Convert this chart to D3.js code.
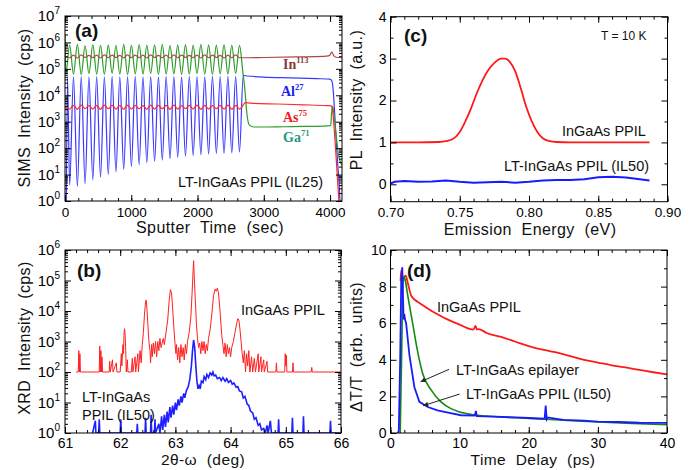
<!DOCTYPE html>
<html><head><meta charset="utf-8">
<script src="https://cdn.jsdelivr.net/npm/d3@7"></script>
<style>
body{margin:0;background:#fff;}
svg{font-family:"Liberation Sans",Arial,sans-serif;}
</style></head><body>
<svg id="c" width="699" height="470"></svg>
<script>
// ---------- (a) SIMS data (log10 of counts) ----------
const simsWellT = [70,187,303,420,536,653,769,886,1002,1119,1235,1352,1468,1585,1701,1818,1934,2051,2167,2284,2400,2517,2633];
const simsBarrT = [128,245,361,478,594,711,827,944,1060,1177,1293,1410,1526,1643,1759,1876,1992,2109,2225,2342,2458,2575];

const gaHeadT = [0,12], gaHeadV = [6.3,4.8];
const gaWell = [5.9,5.93,5.88,5.92,5.9,5.91,5.89,5.93,5.9,5.92,5.9,5.91,5.93,5.89,5.91,5.92,5.9,5.93,5.91,5.9,5.92,5.9,5.89];
const gaBarr = [4.8,4.78,4.82,4.8,4.79,4.83,4.8,4.78,4.81,4.8,4.82,4.79,4.8,4.81,4.78,4.8,4.82,4.8,4.79,4.81,4.8,4.82];
const gaTailT = [2685,2715,2745,2780,2850,3000,3300,3600,3900,4010,4022,4035,4050,4075,4100,4130,4160,4180];
const gaTailV = [4.85,4.2,3.3,2.88,2.8,2.8,2.81,2.82,2.83,2.85,3.3,3.58,3.45,2.9,2.3,1.7,1.45,1.35];

const alHeadT = [20,38], alHeadV = [0,4.65];
const alWell = [0.6,0.55,0.65,0.8,0.9,1.0,1.1,1.2,1.3,1.38,1.45,1.5,1.55,1.6,1.65,1.7,1.72,1.75,1.78,1.8,1.8,1.82,1.85];
const alBarr = [4.7,4.72,4.7,4.71,4.7,4.72,4.7,4.71,4.72,4.7,4.71,4.7,4.72,4.71,4.7,4.72,4.71,4.7,4.72,4.71,4.72,4.71];
const alTailT = [2690,2750,3000,3400,3800,4000,4030,4050,4070,4090,4110,4130,4150];
const alTailV = [4.75,4.73,4.69,4.66,4.63,4.61,4.52,4.1,3.3,2.4,1.6,0.9,0];

const asHeadT = [0], asHeadV = [3.56];
const asWell = [3.48,3.47,3.49,3.48,3.47,3.49,3.48,3.47,3.48,3.49,3.47,3.48,3.49,3.47,3.48,3.49,3.48,3.47,3.48,3.49,3.48,3.47,3.48];
const asBarr = [3.62,3.63,3.61,3.62,3.63,3.62,3.61,3.63,3.62,3.61,3.63,3.62,3.62,3.63,3.61,3.62,3.63,3.62,3.61,3.62,3.63,3.62];
const asTailT = [2680,2720,2800,3200,3600,3950,4020,4040,4060,4080,4100,4120,4140];
const asTailV = [3.6,3.72,3.7,3.67,3.64,3.61,3.6,3.4,2.8,2.1,1.3,0.5,-0.3];

const inHeadT = [0], inHeadV = [5.46];
const inWell = [5.42,5.41,5.43,5.42,5.41,5.42,5.43,5.41,5.42,5.42,5.41,5.43,5.42,5.41,5.42,5.43,5.42,5.41,5.42,5.43,5.41,5.42,5.42];
const inBarr = [5.52,5.53,5.51,5.52,5.53,5.52,5.51,5.53,5.52,5.52,5.53,5.51,5.52,5.53,5.52,5.51,5.52,5.53,5.52,5.51,5.52,5.53];
const inTailT = [2680,2750,3000,3500,3900,3990,4025,4055,4090,4180];
const inTailV = [5.42,5.42,5.43,5.45,5.47,5.5,5.63,5.5,5.44,5.42];

const simsXTicks = [0,1000,2000,3000,4000];
const simsYExp = [0,1,2,3,4,5,6,7];

// ---------- (b) XRD data [2theta-omega, log10 cps] ----------
const xrdPPIL = [[61.2,2],[61.24,2],[61.25,2.7],[61.26,2],[61.27,2.6],[61.28,2],[61.45,2],[61.62,2],[61.63,2.85],[61.64,2],[61.65,2.7],[61.66,2],[61.67,2.5],[61.68,2],
[61.8,2],[61.81,2.35],[61.82,2],[61.86,2.4],[61.87,2],[61.93,2.3],[61.94,2],[62.0,2],[62.02,2.6],[62.03,2.2],[62.05,2.9],[62.06,2.6],[62.07,3.3],[62.08,3.42],[62.09,3.2],[62.1,2.7],[62.11,2],[62.13,2.4],[62.14,2],
[62.2,2],[62.22,2.45],[62.23,2],[62.27,2.5],[62.28,2],[62.32,2.6],[62.33,2],[62.36,2.7],[62.38,2.3],[62.4,2.9],[62.42,3.3],[62.44,3.9],[62.46,4.3],[62.47,4.36],[62.48,4.2],[62.5,3.6],[62.52,3.0],[62.54,2.7],[62.55,2.3],[62.57,2.9],[62.58,2.5],[62.6,2.95],[62.62,2.6],[62.64,3.0],[62.66,2.5],[62.68,3.0],[62.7,2.7],[62.72,3.1],[62.74,2.8],[62.76,2.95],[62.78,3.1],[62.8,2.9],[62.83,3.3],[62.86,3.7],[62.89,4.4],[62.91,4.7],[62.93,4.6],[62.95,4.1],[62.97,3.5],[62.99,3.0],
[63.01,2.6],[63.02,2.9],[63.04,2.4],[63.06,2.8],[63.08,2.3],[63.1,2.9],[63.12,2.5],[63.14,2.8],[63.16,2.4],[63.18,2.9],[63.2,2.6],[63.22,3.0],[63.25,3.3],[63.28,3.8],[63.3,4.5],[63.32,5.3],[63.33,5.65],[63.34,5.2],[63.36,4.4],[63.38,3.6],[63.4,3.1],[63.42,2.8],[63.44,2.95],[63.46,2.6],[63.48,3.0],[63.5,2.7],[63.52,3.0],[63.54,2.6],[63.56,2.9],[63.58,2.7],[63.6,3.1],[63.63,3.4],[63.66,3.9],[63.69,4.5],[63.72,4.72],[63.74,4.65],[63.76,4.75],[63.78,4.6],[63.8,4.2],[63.82,3.7],[63.84,3.2],[63.86,2.9],[63.88,2.6],[63.9,2.95],[63.92,2.5],[63.94,2.9],[63.96,2.6],[63.98,2.8],
[64.0,2.5],[64.02,2.8],[64.05,3.0],[64.08,3.3],[64.11,3.6],[64.13,3.75],[64.15,3.7],[64.17,3.4],[64.19,3.0],[64.21,2.6],[64.23,2.3],[64.25,2.7],[64.27,2],[64.29,2.6],[64.31,2.2],[64.33,2.7],[64.35,2],[64.38,2.5],[64.4,2],[64.43,2.45],[64.45,2],[64.5,2.6],[64.51,2],[64.55,2.5],[64.56,2],[64.6,2.4],[64.61,2],[64.66,2.35],[64.67,2],
[64.82,2],[64.83,2.3],[64.84,2],[64.98,2],[64.99,2.6],[65.0,2.2],[65.01,2.55],[65.02,2],[65.12,2],[65.13,2.3],[65.14,2],[65.46,2],[65.47,2.15],[65.48,2],[66,2]];
const xrdLT = [[61.5,0],[61.55,0.4],[61.56,0],[61.61,0],[61.62,0.45],[61.63,0],[62.0,0],[62.01,0.45],[62.02,0],[62.3,0],[62.31,0.3],[62.32,0],[62.45,0],[62.46,0.5],[62.47,0],[62.55,0],[62.56,0.6],[62.57,0],[62.62,0],[62.63,0.45],[62.64,0],
[62.7,0.3],[62.72,0],[62.75,0.55],[62.77,0.1],[62.8,0.6],[62.82,0.2],[62.85,0.7],[62.87,0.35],[62.9,0.85],[62.92,0.5],[62.95,0.9],[62.97,0.6],[63.0,1.0],[63.02,0.75],[63.05,1.1],[63.07,0.9],[63.1,1.2],[63.12,1.0],[63.15,1.3],[63.17,1.15],[63.2,1.4],[63.23,1.5],[63.26,1.75],[63.29,2.2],[63.31,2.7],[63.33,3.05],[63.35,2.8],[63.37,2.2],[63.39,1.7],[63.41,1.45],
[63.43,1.55],[63.45,1.45],[63.47,1.7],[63.5,1.65],[63.52,1.85],[63.55,1.75],[63.57,1.92],[63.6,1.82],[63.63,1.97],[63.66,1.9],[63.68,2.0],[63.7,1.88],[63.73,1.9],[63.76,1.78],[63.8,1.82],[63.83,1.72],[63.86,1.82],[63.9,1.7],[63.93,1.78],[63.96,1.66],[64.0,1.72],[64.03,1.6],[64.06,1.64],[64.1,1.5],[64.13,1.52],[64.16,1.38],[64.2,1.35],[64.23,1.15],[64.26,1.2],[64.3,0.95],[64.33,0.9],[64.36,0.72],[64.4,0.66],[64.43,0.45],[64.46,0.5],[64.5,0.25],[64.53,0.3],[64.56,0.1],[64.6,0.15],[64.63,0],[64.66,0.25],[64.68,0],[64.72,0.4],[64.74,0],
[64.86,0],[64.87,0.45],[64.88,0],[65.11,0],[65.12,0.5],[65.13,0],[65.31,0],[65.32,0.55],[65.33,0],[65.8,0],[65.81,0.4],[65.82,0],[66,0]];
const xrdXTicks = [61,62,63,64,65,66];
const xrdYExp = [0,1,2,3,4,5,6];

// ---------- (c) PL data ----------
const plE = [0.700,0.720,0.735,0.740,0.745,0.750,0.754,0.758,0.762,0.766,0.770,0.775,0.780,0.783,0.786,0.790,0.794,0.798,0.802,0.806,0.810,0.815,0.820,0.830,0.887];
const plPPIL = [1.0,1.0,1.01,1.03,1.08,1.25,1.5,1.8,2.15,2.45,2.7,2.9,3.0,3.0,2.93,2.7,2.3,1.85,1.5,1.25,1.1,1.03,1.01,1.0,1.0];
const plE2 = [0.700,0.703,0.710,0.720,0.730,0.740,0.750,0.760,0.770,0.780,0.790,0.800,0.810,0.820,0.830,0.840,0.850,0.860,0.870,0.880,0.887];
const plLT = [0.02,0.06,0.08,0.06,0.07,0.09,0.06,0.04,0.05,0.06,0.04,0.06,0.09,0.1,0.1,0.12,0.17,0.18,0.16,0.12,0.09];
const plXTicks = [0.70,0.75,0.80,0.85,0.90];
const plYTicks = [0,1,2,3,4];

// ---------- (d) pump-probe data ----------
const ppRedT = [1.45,1.55,1.7,1.85,2.0,2.2,2.5,3,4,5,6,7,8,10,12,12.3,12.5,12.7,14,16,18,20,22,24,26,28,30,32,34,36,38,40];
const ppRed  = [8.3,8.9,8.5,8.3,8.55,8.6,8.2,7.5,7.15,6.9,6.65,6.45,6.25,5.92,5.65,5.85,5.65,5.68,5.45,5.25,5.0,4.75,4.55,4.4,4.2,4.0,3.85,3.7,3.58,3.45,3.32,3.2];
const ppGreenT = [1.4,1.6,1.8,1.95,2.1,2.5,3.2,3.9,4.65,5.9,7.3,8.75,10,12,15,20,25,30,35,40];
const ppGreen  = [0,4,8.2,8.55,8.4,7.5,6.0,4.5,3.25,2.34,1.7,1.33,1.15,1.0,0.9,0.8,0.7,0.6,0.52,0.45];
const ppBlueT = [1.0,1.2,1.4,1.55,1.7,1.8,1.9,2.0,2.1,2.26,2.74,3.46,4.18,5.4,6.8,8.5,10.2,12.2,12.35,12.5,15,18,20,22.3,22.45,22.6,22.75,25,28,30,33,36,40];
const ppBlue  = [0,0.1,4,8.3,9.05,7.5,6.2,6.5,6.2,6.0,4.25,2.5,1.7,1.42,1.24,1.1,0.97,0.95,1.2,0.92,0.9,0.85,0.82,0.78,1.5,0.75,0.85,0.72,0.68,0.62,0.6,0.56,0.55];
const ppXTicks = [0,10,20,30,40];
const ppYTicks = [0,2,4,6,8,10];

// ================= drawing =================
const svg = d3.select("#c");
const FONT = "Liberation Sans, Arial, sans-serif";

function merge(hT,hV,wV,bV,tT,tV){
  const pts = [];
  hT.forEach((t,i)=>pts.push([t,hV[i]]));
  simsWellT.forEach((t,i)=>pts.push([t,wV[i]]));
  simsBarrT.forEach((t,i)=>pts.push([t,bV[i]]));
  tT.forEach((t,i)=>pts.push([t,tV[i]]));
  return pts.sort((a,b)=>a[0]-b[0]);
}

let clipId = 0;
function panel(P){
  const id = "clip"+(clipId++);
  svg.append("clipPath").attr("id",id).append("rect")
    .attr("x",P.l).attr("y",P.t).attr("width",P.r-P.l).attr("height",P.b-P.t);
  return svg.append("g").attr("clip-path",`url(#${id})`);
}

function styleAxis(g, fs){
  g.attr("font-family",FONT).attr("font-size",fs);
  g.select(".domain").remove();
  g.selectAll(".tick line").attr("stroke","#000").attr("stroke-width",1);
  g.selectAll(".tick text").attr("fill","#000");
}

function sup(g){
  g.selectAll(".tick text").each(function(d){
    const t = d3.select(this);
    const e = Math.round(Math.log10(d));
    t.text(null);
    t.append("tspan").text("10");
    t.append("tspan").attr("font-size","10px").attr("dy","-7").text(e);
  });
}

function axes(P,x,y,o){
  const g = svg.append("g");
  g.append("g").attr("transform",`translate(0,${P.b})`)
    .call(d3.axisBottom(x).tickValues(o.xMaj).tickSize(-6).tickPadding(o.xPad||7).tickFormat(o.xFmt))
    .call(s=>styleAxis(s,o.xFs));
  g.append("g").attr("transform",`translate(0,${P.b})`)
    .call(d3.axisBottom(x).tickValues(o.xMin).tickSize(-3).tickFormat(""))
    .call(s=>styleAxis(s,10));
  g.append("g").attr("transform",`translate(0,${P.t})`)
    .call(d3.axisTop(x).tickValues(o.xMaj).tickSize(-6).tickFormat(""))
    .call(s=>styleAxis(s,10));
  g.append("g").attr("transform",`translate(0,${P.t})`)
    .call(d3.axisTop(x).tickValues(o.xMin).tickSize(-3).tickFormat(""))
    .call(s=>styleAxis(s,10));
  const la = g.append("g").attr("transform",`translate(${P.l},0)`)
    .call(d3.axisLeft(y).tickValues(o.yMaj).tickSize(-6).tickPadding(o.yPad||5).tickFormat(o.yFmt))
    .call(s=>styleAxis(s,o.yFs));
  if(o.log) la.call(sup);
  g.append("g").attr("transform",`translate(${P.l},0)`)
    .call(d3.axisLeft(y).tickValues(o.yMin).tickSize(-3).tickFormat(""))
    .call(s=>styleAxis(s,10));
  g.append("g").attr("transform",`translate(${P.r},0)`)
    .call(d3.axisRight(y).tickValues(o.yMaj).tickSize(-6).tickFormat(""))
    .call(s=>styleAxis(s,10));
  g.append("g").attr("transform",`translate(${P.r},0)`)
    .call(d3.axisRight(y).tickValues(o.yMin).tickSize(-3).tickFormat(""))
    .call(s=>styleAxis(s,10));
  svg.append("rect").attr("x",P.l).attr("y",P.t).attr("width",P.r-P.l).attr("height",P.b-P.t)
    .attr("fill","none").attr("stroke","#000").attr("stroke-width",1);
}

function text(x,y,str,o={}){
  return svg.append("text").attr("x",x).attr("y",y).text(str)
    .attr("font-family",o.ff||FONT).attr("font-size",o.fs||14.5)
    .attr("font-weight",o.fw||"normal").attr("fill",o.fill||"#111")
    .attr("text-anchor",o.anchor||"start")
    .attr("word-spacing",o.ws||0).attr("letter-spacing",o.ls||0);
}
function ytitle(x,y,str){
  svg.append("text").attr("transform",`translate(${x},${y}) rotate(-90)`)
    .attr("text-anchor","middle").attr("font-family",FONT).attr("font-size",16)
    .attr("letter-spacing",0.4).attr("word-spacing",4).attr("fill","#111").text(str);
}
function xtitle(x,y,str,fs){
  svg.append("text").attr("x",x).attr("y",y)
    .attr("text-anchor","middle").attr("font-family",FONT).attr("font-size",fs||16)
    .attr("letter-spacing",0.4).attr("word-spacing",5).attr("fill","#111").text(str);
}
function logMinor(y){ return y.ticks().filter(v=>{const m=v/Math.pow(10,Math.floor(Math.log10(v)+1e-9)); return Math.abs(m-1)>1e-6;}); }

// ---------- Panel (a) ----------
{
  const P = {l:65,r:342,t:16,b:201};
  const x = d3.scaleLinear().domain([0,4180]).range([P.l,P.r]);
  const y = d3.scaleLog().domain([1,1e7]).range([P.b,P.t]);
  const g = panel(P);
  const line = d3.line().x(d=>x(d[0])).y(d=>y(Math.pow(10,d[1]))).curve(d3.curveMonotoneX);
  const series = [
    [merge(alHeadT,alHeadV,alWell,alBarr,alTailT,alTailV),"#3a3aff"],
    [merge(gaHeadT,gaHeadV,gaWell,gaBarr,gaTailT,gaTailV),"#2a9d2a"],
    [merge(inHeadT,inHeadV,inWell,inBarr,inTailT,inTailV),"#a84848"],
    [merge(asHeadT,asHeadV,asWell,asBarr,asTailT,asTailV),"#ff2a2a"]
  ];
  series.forEach(([d,c])=>g.append("path").datum(d).attr("d",line)
    .attr("fill","none").attr("stroke",c).attr("stroke-width",1.2));
  axes(P,x,y,{xMaj:simsXTicks,xMin:d3.range(0,4181,200),xFmt:d3.format("d"),xFs:13.5,xPad:6,
    yMaj:simsYExp.map(e=>Math.pow(10,e)),yMin:logMinor(y),yFmt:d=>d,yFs:15,log:true});
  xtitle(210,233,"Sputter Time (sec)");
  ytitle(30,108,"SIMS Intensity (cps)");
  text(75,37,"(a)",{fs:19,fw:"bold"});
  const el = [["In","113",283,69,"#8b3a3a"],["Al","27",281,96,"#2020ee"],["As","75",283,122,"#ee2020"],["Ga","71",283,142,"#1a9a7a"]];
  el.forEach(([s,m,xx,yy,c])=>{
    const t = text(xx,yy,s,{ff:"Liberation Serif, Times New Roman, serif",fs:14,fw:"bold",fill:c});
    t.append("tspan").attr("font-size","8.5px").attr("dy","-6").text(m);
  });
  text(178,187,"LT-InGaAs PPIL (IL25)",{fs:14.5});
}

// ---------- Panel (b) ----------
{
  const P = {l:65,r:341,t:250,b:433};
  const x = d3.scaleLinear().domain([61,66]).range([P.l,P.r]);
  const y = d3.scaleLog().domain([1,1e6]).range([P.b,P.t]);
  const g = panel(P);
  const line = d3.line().x(d=>x(d[0])).y(d=>y(Math.pow(10,d[1])));
  g.append("path").datum(xrdPPIL).attr("d",line).attr("fill","none").attr("stroke","#ff2020").attr("stroke-width",1);
  g.append("path").datum(xrdLT).attr("d",line).attr("fill","none").attr("stroke","#2020ff").attr("stroke-width",1.6);
  axes(P,x,y,{xMaj:xrdXTicks,xMin:d3.range(61,66.01,0.2),xFmt:d3.format("d"),xFs:14,xPad:5,
    yMaj:xrdYExp.map(e=>Math.pow(10,e)),yMin:logMinor(y),yFmt:d=>d,yFs:15,log:true});
  xtitle(203,465,"2θ-ω (deg)",15.5);
  ytitle(30,338,"XRD Intensity (cps)");
  text(77,277,"(b)",{fs:19,fw:"bold"});
  text(241,315,"InGaAs PPIL");
  text(82,402,"LT-InGaAs");
  text(82,420,"PPIL (IL50)");
}

// ---------- Panel (c) ----------
{
  const P = {l:390.5,r:667.5,t:16.7,b:201.7};
  const x = d3.scaleLinear().domain([0.70,0.90]).range([P.l,P.r]);
  const y = d3.scaleLinear().domain([-0.415,4]).range([P.b,P.t]);
  const g = panel(P);
  g.append("path").datum(plE.map((e,i)=>[e,plPPIL[i]]))
    .attr("d",d3.line().x(d=>x(d[0])).y(d=>y(d[1])).curve(d3.curveMonotoneX))
    .attr("fill","none").attr("stroke","#ff1a1a").attr("stroke-width",1.8);
  g.append("path").datum(plE2.map((e,i)=>[e,plLT[i]]))
    .attr("d",d3.line().x(d=>x(d[0])).y(d=>y(d[1])))
    .attr("fill","none").attr("stroke","#1a1aff").attr("stroke-width",2);
  axes(P,x,y,{xMaj:plXTicks,xMin:d3.range(0.70,0.9001,0.01),xFmt:d3.format(".2f"),xFs:13.5,xPad:6,
    yMaj:plYTicks,yMin:[0.5,1.5,2.5,3.5],yFmt:d3.format("d"),yFs:14,yPad:4});
  xtitle(530,235,"Emission Energy (eV)");
  ytitle(362,100,"PL Intensity (a.u.)");
  text(404,42,"(c)",{fs:19,fw:"bold"});
  text(601,40,"T = 10 K",{fs:12});
  text(562,136,"InGaAs PPIL");
  text(504,171,"LT-InGaAs PPIL (IL50)");
}

// ---------- Panel (d) ----------
{
  const P = {l:390.5,r:667,t:250,b:433};
  const x = d3.scaleLinear().domain([0,40]).range([P.l,P.r]);
  const y = d3.scaleLinear().domain([0,10]).range([P.b,P.t]);
  const g = panel(P);
  const line = d3.line().x(d=>x(d[0])).y(d=>y(d[1])).curve(d3.curveMonotoneX);
  g.append("path").datum(ppRedT.map((t,i)=>[t,ppRed[i]])).attr("d",line)
    .attr("fill","none").attr("stroke","#ff1a1a").attr("stroke-width",1.8);
  g.append("path").datum(ppGreenT.map((t,i)=>[t,ppGreen[i]])).attr("d",line)
    .attr("fill","none").attr("stroke","#128a12").attr("stroke-width",1.6);
  g.append("path").datum(ppBlueT.map((t,i)=>[t,ppBlue[i]])).attr("d",d3.line().x(d=>x(d[0])).y(d=>y(d[1])))
    .attr("fill","none").attr("stroke","#1a1aff").attr("stroke-width",1.8);
  axes(P,x,y,{xMaj:ppXTicks,xMin:d3.range(0,40.01,2),xFmt:d3.format("d"),xFs:14,xPad:5,
    yMaj:ppYTicks,yMin:[1,3,5,7,9],yFmt:d3.format("d"),yFs:14,yPad:4});
  xtitle(533,465,"Time Delay (ps)",15.5);
  ytitle(362,347,"ΔT/T (arb. units)");
  text(407,277,"(d)",{fs:19,fw:"bold"});
  text(437,312,"InGaAs PPIL");
  text(456,375,"LT-InGaAs epilayer");
  text(466,399,"LT-InGaAs PPIL (IL50)");
  const defs = svg.append("defs");
  defs.append("marker").attr("id","ah").attr("viewBox","0 0 10 10").attr("refX",10).attr("refY",5)
    .attr("markerWidth",7).attr("markerHeight",5).attr("orient","auto")
    .append("path").attr("d","M0,0L10,5L0,10z").attr("fill","#222");
  [[8.47,3.48,4.35,2.8],[10.0,2.13,4.73,1.49]].forEach(a=>{
    svg.append("line").attr("x1",x(a[0])).attr("y1",y(a[1])).attr("x2",x(a[2])).attr("y2",y(a[3]))
      .attr("stroke","#222").attr("stroke-width",1).attr("marker-end","url(#ah)");
  });
}
</script>
</body></html>
